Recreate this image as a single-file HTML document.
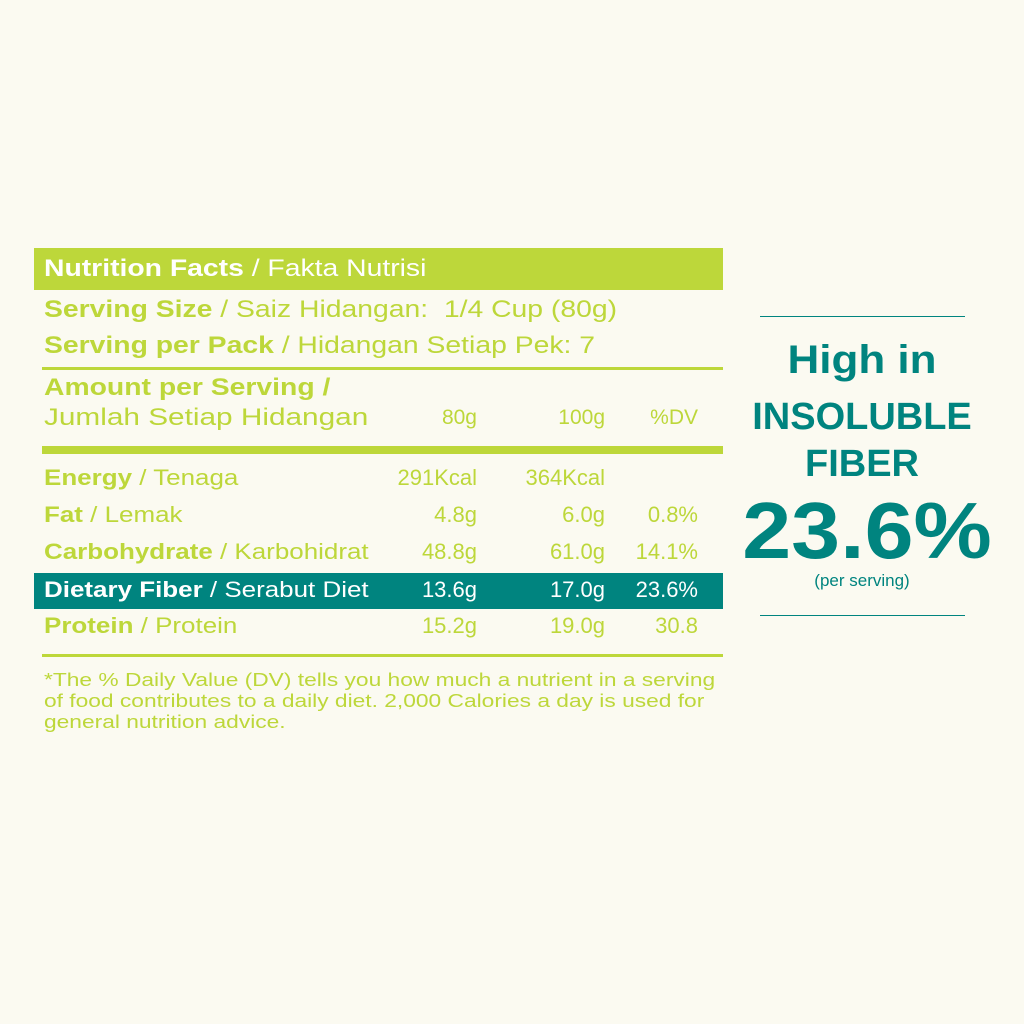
<!DOCTYPE html>
<html><head><style>
body{margin:0;width:1024px;height:1024px;background:#fbfaf1;position:relative;font-family:"Liberation Sans",sans-serif;overflow:hidden}
.a{position:absolute;white-space:nowrap}
.g{color:#bdd73a}.t{color:#00847f}
b{font-weight:700}
.s{transform:scaleX(1.18);transform-origin:0 0;display:inline-block}
.row{position:absolute;left:44px;width:654px;height:30px;font-size:22px;line-height:30px;color:#bdd73a}
.row span{position:absolute;top:0}
.c1{right:221px}.c2{right:93px}.c3{right:0}
</style></head><body>
<div class="a" style="left:34px;top:248px;width:689px;height:42px;background:#bdd73a"></div>
<div class="a s" style="left:44px;top:253px;font-size:24px;line-height:32px;color:#fff"><b>Nutrition Facts</b> / Fakta Nutrisi</div>
<div class="a g s" style="left:44px;top:294px;font-size:24px;line-height:32px"><b>Serving Size</b> / Saiz Hidangan:&nbsp; 1/4 Cup (80g)</div>
<div class="a g s" style="left:44px;top:330px;font-size:24px;line-height:32px"><b>Serving per Pack</b> / Hidangan Setiap Pek: 7</div>
<div class="a" style="left:42px;top:367px;width:681px;height:3px;background:#bdd73a"></div>
<div class="a g s" style="left:44px;top:372px;font-size:24px;line-height:32px"><b>Amount per Serving /</b></div>
<div class="row" style="top:403px;font-size:24px"><span class="s" style="left:0;transform:scaleX(1.24)">Jumlah Setiap Hidangan</span><span class="c1" style="font-size:21px">80g</span><span class="c2" style="font-size:21px">100g</span><span class="c3" style="font-size:21px">%DV</span></div>
<div class="a" style="left:42px;top:446px;width:681px;height:8px;background:#bdd73a"></div>
<div class="row" style="top:463px"><span class="s" style="left:0"><b>Energy</b> / Tenaga</span><span class="c1">291Kcal</span><span class="c2">364Kcal</span></div>
<div class="row" style="top:500px"><span class="s" style="left:0"><b>Fat</b> / Lemak</span><span class="c1">4.8g</span><span class="c2">6.0g</span><span class="c3">0.8%</span></div>
<div class="row" style="top:537px"><span class="s" style="left:0"><b>Carbohydrate</b> / Karbohidrat</span><span class="c1">48.8g</span><span class="c2">61.0g</span><span class="c3">14.1%</span></div>
<div class="a" style="left:34px;top:573px;width:689px;height:36px;background:#00847f"></div>
<div class="row" style="top:575px;color:#fff"><span class="s" style="left:0"><b>Dietary Fiber</b> / Serabut Diet</span><span class="c1">13.6g</span><span class="c2">17.0g</span><span class="c3">23.6%</span></div>
<div class="row" style="top:611px"><span class="s" style="left:0"><b>Protein</b> / Protein</span><span class="c1">15.2g</span><span class="c2">19.0g</span><span class="c3">30.8</span></div>
<div class="a" style="left:42px;top:654px;width:681px;height:3px;background:#bdd73a"></div>
<div class="a g" style="left:44px;top:669px;font-size:18.5px;line-height:21px;transform:scaleX(1.23);transform-origin:0 0">*The % Daily Value (DV) tells you how much a nutrient in a serving<br>of food contributes to a daily diet. 2,000 Calories a day is used for<br>general nutrition advice.</div>
<div class="a" style="left:760px;top:316px;width:205px;height:1px;background:#00847f"></div>
<div class="a" style="left:760px;top:615px;width:205px;height:1px;background:#00847f"></div>
<div class="a t" style="left:700px;width:324px;top:336px;text-align:center;font-size:40px;font-weight:700;line-height:48px;transform:scaleX(1.1)">High in</div>
<div class="a t" style="left:700px;width:324px;top:394px;text-align:center;font-size:38px;font-weight:700;line-height:46px">INSOLUBLE</div>
<div class="a t" style="left:700px;width:324px;top:441px;text-align:center;font-size:38px;font-weight:700;line-height:46px">FIBER</div>
<div class="a t" style="left:705px;width:324px;top:488px;text-align:center;font-size:80px;font-weight:700;line-height:86px;transform:scaleX(1.1)">23.6%</div>
<div class="a t" style="left:700px;width:324px;top:570px;text-align:center;font-size:17px;line-height:22px">(per serving)</div>
</body></html>
